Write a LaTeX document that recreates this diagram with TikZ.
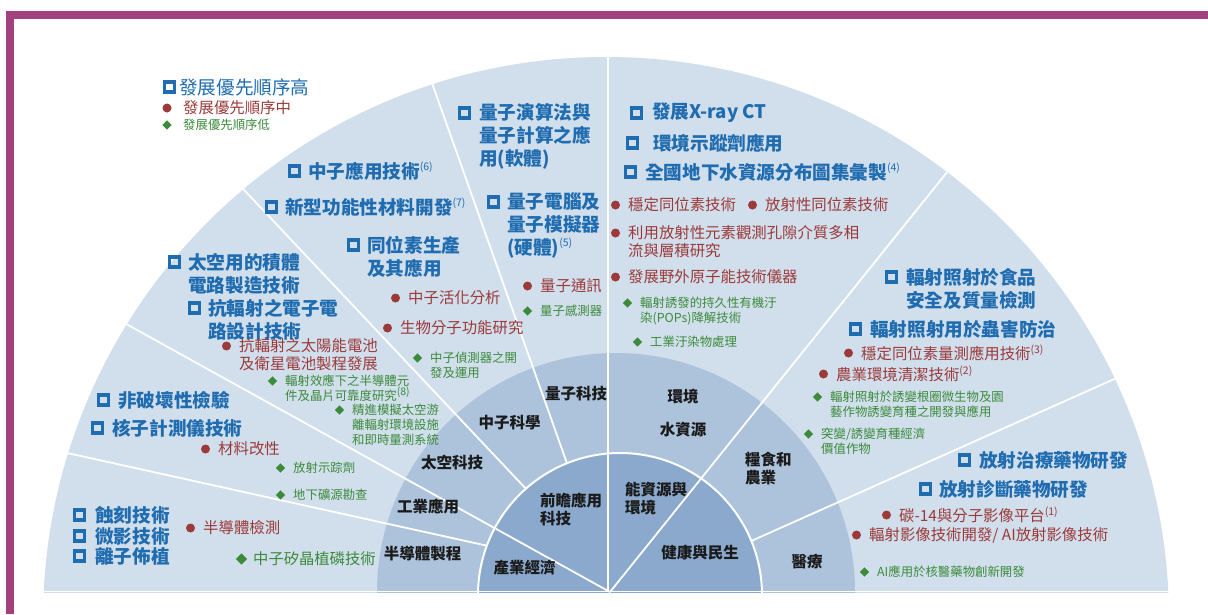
\documentclass[tikz,border=0pt]{standalone}
\usepackage{fontspec}
\setmainfont{Noto Sans CJK TC}
\definecolor{purp}{HTML}{A3417F}
\definecolor{ringO}{HTML}{D1DEEB}
\definecolor{ringM}{HTML}{ADC2DB}
\definecolor{ringI}{HTML}{8AA9CD}
\definecolor{tblue}{HTML}{1F6CB0}
\definecolor{tred}{HTML}{9C3A3A}
\definecolor{tgreen}{HTML}{3B8B3B}
\definecolor{tblack}{HTML}{1A1A1A}
\tikzset{
 bsq/.style={draw=tblue, line width=3.2pt, minimum size=10pt, inner sep=0pt},
 rdot/.style={circle, fill=tred, minimum size=9pt, inner sep=0pt},
 gdia/.style={rectangle, rotate=45, fill=tgreen, minimum size=6.5pt, inner sep=0pt},
 btxt/.style={anchor=west, inner sep=0pt, text=tblue, font=\fontsize{18.6}{23}\selectfont\bfseries, align=left},
 rtxt/.style={anchor=west, inner sep=0pt, text=tred, font=\fontsize{15.4}{18}\selectfont, align=left},
 gtxt/.style={anchor=west, inner sep=0pt, text=tgreen, font=\fontsize{12.4}{15}\selectfont, align=left},
 ktxt/.style={inner sep=0pt, text=tblack, font=\fontsize{15.5}{18}\selectfont\bfseries, align=left},
 divider/.style={draw=white, line width=1.8pt},
}
\newcommand\sups[1]{\raisebox{0.4em}{\fontsize{10.5}{10.5}\selectfont\mdseries(#1)}}
\newcommand\bitem[5]{\node[bsq] at (#1+6.5,#3) {}; \node[btxt] at (#2,#4) {#5};}
\newcommand\ritem[4]{\node[rdot] at (#1-12.5,#2) {}; \node[rtxt] at (#1,#3) {#4};}
\newcommand\gitem[4]{\node[gdia] at (#1-12.5,#2) {}; \node[gtxt] at (#1,#3) {#4};}
\begin{document}
\begin{tikzpicture}[x=1pt,y=-1pt]
\useasboundingbox (0,0) rectangle (1208,614);
\fill[white] (0,0) rectangle (1208,614);
\fill[purp] (6,11) rectangle (1208,19);
\fill[purp] (6,11) rectangle (14,614);

\begin{scope}
\clip (0,0) rectangle (1208,592);
\fill[ringO] (606,620) circle[radius=563];
\fill[ringM] (616,592) circle[radius=239];
\begin{scope}
\clip (606,620) circle[radius=563];
\draw[divider] (608,40) -- (608,592);
\draw[divider] (426,66) -- (580,500);
\draw[divider] (230,175) -- (545,509);
\draw[divider] (110,315) -- (610,592);
\draw[divider] (40,447) -- (520,553);
\draw[divider] (960,156) -- (610,592);
\draw[divider] (1130,372) -- (740,546);
\end{scope}
\draw[white, line width=2pt, fill=ringI] (620,595) circle[radius=142];
\begin{scope}
\clip (620,595) circle[radius=141];
\draw[divider] (608,40) -- (608,592);
\draw[divider] (110,315) -- (610,592);
\draw[divider] (960,156) -- (610,592);
\end{scope}
\end{scope}
\draw[white, line width=1.2pt] (40,591.5) -- (1170,591.5);

% legend
\bitem{163}{179}{87}{87}{\mdseries 發展優先順序高}
\node[rdot] at (167,108) {}; \node[rtxt] at (183,108) {發展優先順序中};
\node[gdia] at (167,125) {}; \node[gtxt] at (183,125) {發展優先順序低};

% blue items
\bitem{288}{308}{171}{171}{中子應用技術\sups{6}}
\bitem{265}{285}{207}{207}{新型功能性材料開發\sups{7}}
\bitem{347}{367}{245}{256.5}{同位素生產\\及其應用}
\bitem{458}{479}{113}{136}{量子演算法與\\量子計算之應\\用(軟體)}
\bitem{487}{507}{202}{225}{量子電腦及\\量子模擬器\\(硬體)\sups{5}}
\bitem{630}{652}{113}{113}{發展X-ray CT}
\bitem{626}{653}{143}{143}{環境示蹤劑應用}
\bitem{624}{645}{172}{172}{全國地下水資源分布圖集彙製\sups{4}}
\bitem{885}{906}{277}{288.5}{輻射照射於食品\\安全及質量檢測}
\bitem{849}{870}{329}{329}{輻射照射用於蟲害防治}
\bitem{958}{979}{460}{460}{放射治療藥物研發}
\bitem{919}{939}{489}{489}{放射診斷藥物研發}
\bitem{168}{188}{262}{273.5}{太空用的積體\\電路製造技術}
\bitem{188}{208}{308}{319.5}{抗輻射之電子電\\路設計技術}
\bitem{97}{118}{400}{400}{非破壞性檢驗}
\bitem{91}{112}{428}{428}{核子計測儀技術}
\bitem{73}{95}{515}{515}{蝕刻技術}
\bitem{73}{95}{536}{536}{微影技術}
\bitem{73}{95}{556}{556}{離子佈植}

% red items
\ritem{408}{298}{298}{中子活化分析}
\ritem{400}{328}{328}{生物分子功能研究}
\ritem{540}{286}{286}{量子通訊}
\ritem{628}{205}{205}{穩定同位素技術}
\ritem{765}{205}{205}{放射性同位素技術}
\ritem{628}{233}{242}{利用放射性元素觀測孔隙介質多相\\流與層積研究}
\ritem{628}{277}{277}{發展野外原子能技術儀器}
\ritem{861}{353}{353}{穩定同位素量測應用技術\sups{3}}
\ritem{836}{374}{374}{農業環境清潔技術\sups{2}}
\ritem{899}{515}{515}{碳-14與分子影像平台\sups{1}}
\ritem{869}{535}{535}{輻射影像技術開發/ AI放射影像技術}
\ritem{239}{346}{355}{抗輻射之太陽能電池\\及衛星電池製程發展}
\ritem{218}{449}{449}{材料改性}
\ritem{203}{528}{528}{半導體檢測}

% green items
\gitem{430}{358}{365.5}{中子偵測器之開\\發及運用}
\gitem{540}{311}{311}{量子感測器}
\gitem{640}{303}{310.5}{輻射誘發的持久性有機汙\\染(POPs)降解技術}
\gitem{650}{342}{342}{工業汙染物處理}
\gitem{830}{397}{404.5}{輻射照射於誘變根圈微生物及園\\藝作物誘變育種之開發與應用}
\gitem{821}{434}{441.5}{突變/誘變育種經濟\\價值作物}
\gitem{877}{572}{572}{AI應用於核醫藥物創新開發}
\gitem{285}{381}{388.5}{輻射效應下之半導體元\\件及晶片可靠度研究\sups{8}}
\gitem{352}{410}{425}{精進模擬太空游\\離輻射環境設施\\和即時量測系統}
\gitem{293}{468}{468}{放射示踪劑}
\gitem{293}{495}{495}{地下礦源勘查}
\node[gdia, minimum size=8pt] at (241.5,559) {};
\node[gtxt, font=\fontsize{15.3}{18}\selectfont] at (253,559) {中子矽晶植磷技術};

% ring labels
\node[ktxt] (q) at (576,394) {量子科技};
\node[ktxt] (env) at (683,397) {環境};
\node[ktxt] (water) at (683,430) {水資源};
\node[ktxt] (neu) at (509.5,423) {中子科學};
\node[ktxt] (space) at (452,463) {太空科技};
\node[ktxt] (ind) at (428,507) {工業應用};
\node[ktxt] (semi) at (422.5,554) {半導體製程};
\node[ktxt, anchor=west] (food) at (745,469) {糧食和\\農業};
\node[ktxt] (med) at (807,562) {醫療};
\node[ktxt, anchor=west] (front) at (540,509) {前瞻應用\\科技};
\node[ktxt, anchor=west] (energy) at (625,499) {能資源與\\環境};
\node[ktxt] (econ) at (524.5,568) {產業經濟};
\node[ktxt] (health) at (700,553) {健康與民生};
\end{tikzpicture}
\end{document}
